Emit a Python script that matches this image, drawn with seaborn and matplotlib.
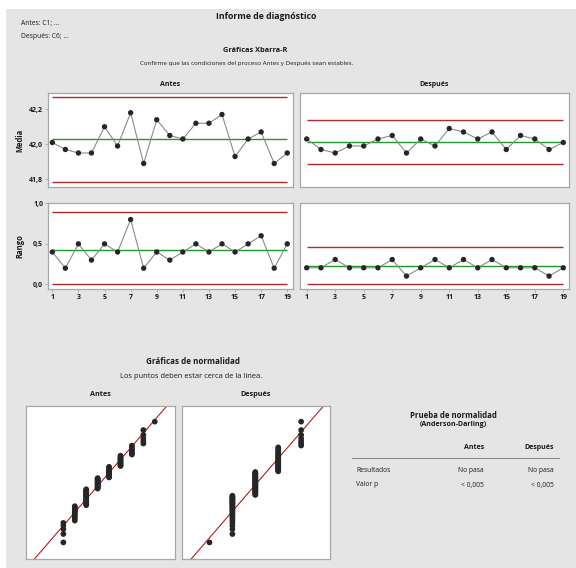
import numpy as np
import pandas as pd
import matplotlib
matplotlib.use("Agg")
import matplotlib.pyplot as plt
import seaborn as sns
from matplotlib.patches import Rectangle
from matplotlib.lines import Line2D
from statistics import NormalDist

# ---------------- data ----------------
subgrupos = list(range(1, 20))
antes_media = [42.01, 41.97, 41.95, 41.95, 42.10, 41.99, 42.18, 41.89, 42.14, 42.05,
               42.03, 42.12, 42.12, 42.17, 41.93, 42.03, 42.07, 41.89, 41.95]
despues_media = [42.03, 41.97, 41.95, 41.99, 41.99, 42.03, 42.05, 41.95, 42.03, 41.99,
                 42.09, 42.07, 42.03, 42.07, 41.97, 42.05, 42.03, 41.97, 42.01]
antes_rango = [0.4, 0.2, 0.5, 0.3, 0.5, 0.4, 0.8, 0.2, 0.4, 0.3,
               0.4, 0.5, 0.4, 0.5, 0.4, 0.5, 0.6, 0.2, 0.5]
despues_rango = [0.2, 0.2, 0.3, 0.2, 0.2, 0.2, 0.3, 0.1, 0.2, 0.3,
                 0.2, 0.3, 0.2, 0.3, 0.2, 0.2, 0.2, 0.1, 0.2]
A2, D3, D4 = 0.577, 0.0, 2.114   # constants for subgroup size 5

antes_valores = [41.7, 41.8, 41.9, 42.0, 42.1, 42.2, 42.3, 42.4, 42.5]
antes_frecuencias = [5, 11, 21, 17, 16, 12, 7, 5, 1]
despues_valores = [41.8, 41.9, 42.0, 42.1, 42.2]
despues_frecuencias = [1, 27, 35, 25, 7]

media_ticks = [41.8, 42.0, 42.2]
rango_ticks = [0.0, 0.5, 1.0]
x_ticks = list(range(1, 20, 2))

tabla_filas = ["Resultados", "Valor p"]
tabla_antes = ["No pasa", "< 0,005"]
tabla_despues = ["No pasa", "< 0,005"]

# ---------------- style ----------------
sns.set_theme(style="white")
plt.rcParams['font.family'] = ['Open Sans', 'DejaVu Sans']

W, H = 576, 568
fig = plt.figure(figsize=(W / 100, H / 100), dpi=100)
fig.patch.set_facecolor("white")
fig.patches.append(Rectangle((6 / W, 0), 1 - 6 / W, 1 - 9 / H, transform=fig.transFigure,
                             facecolor="#e5e5e5", edgecolor="none", zorder=-10))

def ax_at(x0, y0, x1, y1):
    return fig.add_axes([x0 / W, 1 - y1 / H, (x1 - x0) / W, (y1 - y0) / H])

def txt(x, y, s, size=5, weight="normal", ha="center", **kw):
    fig.text(x / W, 1 - y / H, s, fontsize=size, fontweight=weight, ha=ha, va="center",
             color="#1a1a1a", **kw)

SPINE = "#a8a8a8"
LIMIT = "#b02a2a"
CENTER = "#1f9a2e"
PT = "#262626"
CONN = "#8a8a8a"

def style_axes(ax):
    ax.set_facecolor("white")
    for sp in ax.spines.values():
        sp.set_color(SPINE)
        sp.set_linewidth(0.9)
    ax.set_xlabel("")
    ax.set_ylabel("")

def comma(v, nd=1):
    return f"{v:.{nd}f}".replace(".", ",")

def control_chart(ax, values, rangos, kind, show_y, show_x, ylim):
    df = pd.DataFrame({"Subgrupo": subgrupos, "Valor": values})
    arr = np.array(values)
    cl = arr.mean()
    if kind == "media":
        rbar = np.mean(rangos)
        ucl, lcl = cl + A2 * rbar, cl - A2 * rbar
    else:
        ucl, lcl = D4 * cl, D3 * cl
    ax.hlines([ucl, lcl], 1, 19, color=LIMIT, lw=1.0, zorder=1)
    ax.hlines([cl], 1, 19, color=CENTER, lw=1.0, zorder=1)
    sns.lineplot(data=df, x="Subgrupo", y="Valor", ax=ax, color=CONN, lw=0.8, zorder=2)
    sns.scatterplot(data=df, x="Subgrupo", y="Valor", ax=ax, color=PT, s=15,
                    edgecolor="none", zorder=3)
    style_axes(ax)
    ax.set_ylim(*ylim)
    ax.tick_params(axis="both", which="both", length=2, width=0.6, color=SPINE,
                   labelsize=5, pad=1.5, labelcolor="#1a1a1a")
    ax.set_xticks(x_ticks)
    if show_x:
        ax.set_xticklabels([str(t) for t in x_ticks], fontweight="bold")
        ax.tick_params(axis="x", bottom=True)
    else:
        ax.set_xticklabels([])
        ax.tick_params(axis="x", bottom=False)
    if show_y:
        ticks = media_ticks if kind == "media" else rango_ticks
        ax.set_yticks(ticks)
        ax.set_yticklabels([comma(t) for t in ticks], fontweight="bold")
        ax.tick_params(axis="y", left=True)
    else:
        ax.set_yticks([])

# control charts
ax1 = ax_at(48, 93.3, 293, 187.3)
control_chart(ax1, antes_media, antes_rango, "media", True, False, (41.754, 42.291))
ax1.set_xlim(0.67, 19.44)
ax2 = ax_at(300, 93.3, 569, 187.3)
control_chart(ax2, despues_media, despues_rango, "media", False, False, (41.754, 42.291))
ax2.set_xlim(0.53, 19.4)
ax3 = ax_at(48, 203.3, 293, 289.3)
control_chart(ax3, antes_rango, antes_rango, "rango", True, True, (-0.06, 0.98))
ax3.set_xlim(0.67, 19.44)
ax4 = ax_at(300, 203.3, 569, 289.3)
control_chart(ax4, despues_rango, despues_rango, "rango", False, True, (-0.06, 0.98))
ax4.set_xlim(0.53, 19.4)

txt(20, 140, "Media", size=5.5, weight="bold", rotation=90)
txt(20, 246, "Rango", size=5.5, weight="bold", rotation=90)

# normal probability plots
nd = NormalDist()

def normal_plot(ax, valores, frecuencias, xlim):
    data = np.repeat(valores, frecuencias)
    n = len(data)
    ranks = np.arange(1, n + 1)
    z = np.array([nd.inv_cdf((i - 0.3) / (n + 0.4)) for i in ranks])
    df = pd.DataFrame({"Valor": np.sort(data), "Puntaje": z})
    mu, sd = data.mean(), data.std()
    zz = np.array([-3.3, 3.3])
    ax.plot(mu + sd * zz, zz, color="#b01e1e", lw=0.8, zorder=1)
    sns.scatterplot(data=df, x="Valor", y="Puntaje", ax=ax, color=PT, s=17,
                    edgecolor="none", zorder=2)
    style_axes(ax)
    ax.set_xlim(*xlim)
    ax.set_ylim(-3.11, 3.085)
    ax.set_xticks([])
    ax.set_yticks([])

ax5 = ax_at(26, 405.7, 175, 559)
normal_plot(ax5, antes_valores, antes_frecuencias, (41.373, 42.677))
ax6 = ax_at(182, 405.7, 330, 559)
normal_plot(ax6, despues_valores, despues_frecuencias, (41.68, 42.326))

# texts
txt(265.7, 16.7, "Informe de diagnóstico", size=6.3, weight="bold")
txt(21, 23.3, "Antes: C1; ...", size=4.9, ha="left")
txt(21, 36, "Después: C6; ...", size=4.9, ha="left")
txt(255, 50, "Gráficas Xbarra-R", size=5.3, weight="bold")
txt(247, 63.3, "Confirme que las condiciones del proceso Antes y Después sean estables.", size=4.5)
txt(170.5, 84, "Antes", size=5, weight="bold")
txt(434.5, 84, "Después", size=5, weight="bold")

txt(193, 361.7, "Gráficas de normalidad", size=5.8, weight="bold")
txt(191, 376.7, "Los puntos deben estar cerca de la línea.", size=5.4)
txt(100.5, 395, "Antes", size=5.2, weight="bold")
txt(256, 395, "Después", size=5.2, weight="bold")

# table
txt(453, 415, "Prueba de normalidad", size=5.6, weight="bold")
txt(453, 425, "(Anderson-Darling)", size=5.1, weight="bold")
txt(484, 447.7, "Antes", size=5, weight="bold", ha="right")
txt(554, 447.7, "Después", size=5, weight="bold", ha="right")
fig.lines.append(Line2D([352 / W, 559 / W], [1 - 458.3 / H, 1 - 458.3 / H],
                        transform=fig.transFigure, color="#8c8c8c", lw=0.8))
for i, fila in enumerate(tabla_filas):
    yy = 470 + 15 * i
    txt(356, yy, fila, size=4.9, ha="left")
    txt(484, yy, tabla_antes[i], size=4.9, ha="right")
    txt(554, yy, tabla_despues[i], size=4.9, ha="right")

fig.savefig("out.png", dpi=100, facecolor=fig.get_facecolor())
